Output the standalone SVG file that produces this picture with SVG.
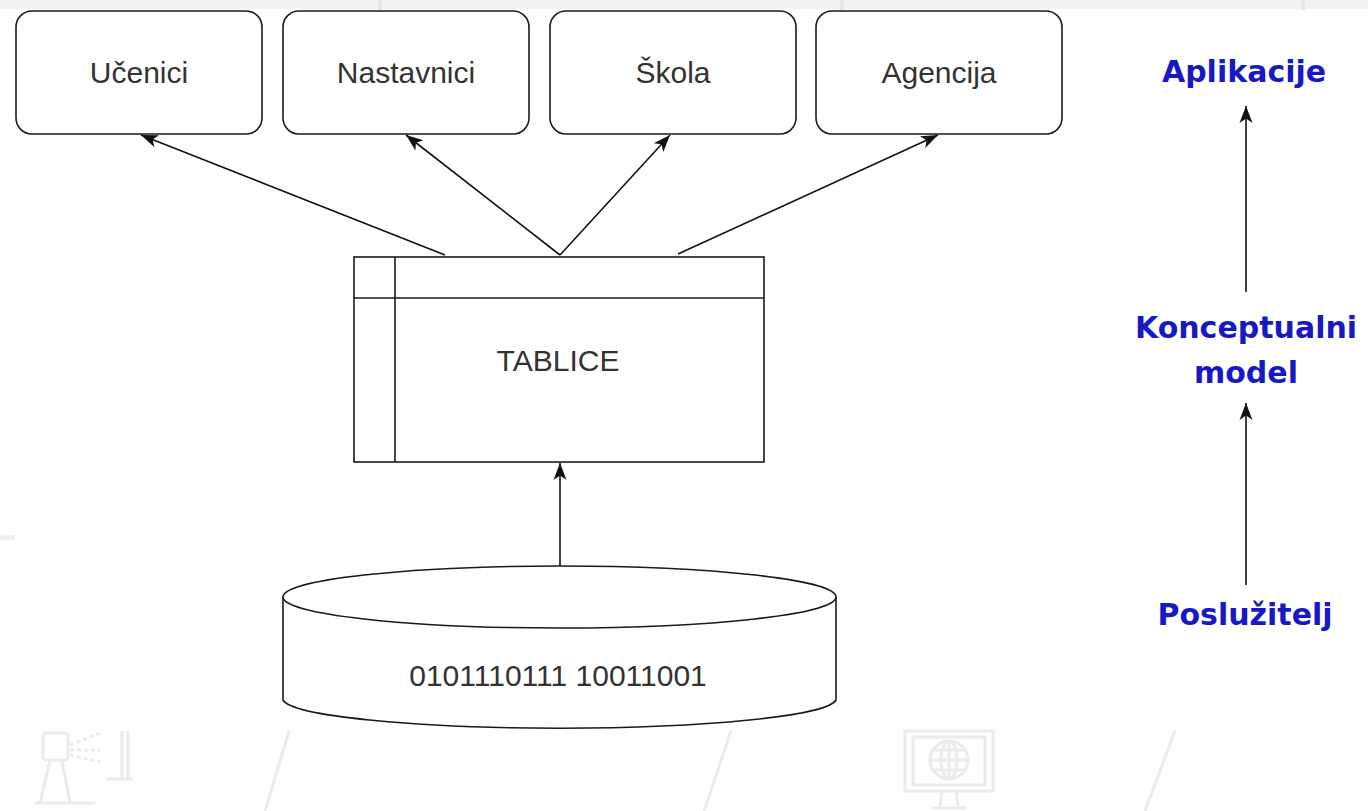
<svg xmlns="http://www.w3.org/2000/svg" width="1368" height="811" viewBox="0 0 1368 811">
<defs>
<style>
.box{fill:#fff;stroke:#1a1a1a;stroke-width:1.6}
.lbl{font-family:"Liberation Sans",Arial,sans-serif;font-size:30px;fill:#333;text-anchor:middle}
.lay{font-family:"DejaVu Sans",Verdana,sans-serif;font-weight:bold;font-size:30px;fill:#1818c4;text-anchor:middle}
.con{fill:none;stroke:#111;stroke-width:1.6}
.wm{fill:none;stroke:#ebebeb;stroke-width:3}
</style>
<marker id="arr" markerUnits="userSpaceOnUse" markerWidth="18" markerHeight="16" viewBox="0 0 18 16" refX="17" refY="8" orient="auto">
<path d="M0,1.5 L17,8 L0,14.5 L4.5,8 z" fill="#111"/>
</marker>
</defs>
<rect width="1368" height="811" fill="#fff"/>
<g id="background">
<rect x="0" y="0" width="1368" height="9" fill="#f2f2f2"/>
<rect x="378" y="0" width="4" height="10" fill="#e6e6e6"/>
<rect x="840" y="0" width="4" height="10" fill="#e6e6e6"/>
<rect x="1301" y="0" width="4" height="10" fill="#e6e6e6"/>
<rect x="0" y="535" width="15" height="5" fill="#f0f0f0"/>
<g class="wm">
<rect x="43" y="733" width="25" height="27" rx="3"/>
<path d="M70,745 L100,733 M70,750 L100,750 M70,755 L100,762" stroke-dasharray="4 3"/>
<path d="M122,731 L122,779 M128,731 L128,779 M106,779 L133,779"/>
<path d="M50,760 L40,803 M62,760 L70,803 M35,803 L95,803"/>
<path d="M289,731 L265,811"/>
<path d="M731,731 L704,811"/>
<path d="M1175,731 L1145,811"/>
<rect x="905" y="731" width="88" height="60"/>
<rect x="913" y="737" width="72" height="48"/>
<circle cx="949" cy="760" r="19"/>
<path d="M930,760 L968,760 M949,741 L949,779 M933,750 L965,750 M933,770 L965,770"/>
<ellipse cx="949" cy="760" rx="8" ry="19"/>
<path d="M942,791 L940,806 M956,791 L958,806 M932,808 L966,808"/>
</g>
</g>
<g id="connectors">
<line class="con" x1="445" y1="255" x2="141" y2="135" marker-end="url(#arr)"/>
<line class="con" x1="560" y1="255" x2="406" y2="135" marker-end="url(#arr)"/>
<line class="con" x1="560" y1="255" x2="670" y2="135" marker-end="url(#arr)"/>
<line class="con" x1="678" y1="254" x2="938" y2="135" marker-end="url(#arr)"/>
<line class="con" x1="560" y1="566" x2="560" y2="463" marker-end="url(#arr)"/>
<line class="con" x1="1246" y1="292" x2="1246" y2="106" marker-end="url(#arr)"/>
<line class="con" x1="1246" y1="585" x2="1246" y2="403" marker-end="url(#arr)"/>
</g>
<g id="ucenici">
<rect class="box" x="16" y="11" width="246" height="123" rx="16"/>
<text class="lbl" x="139" y="83">Učenici</text>
</g>
<g id="nastavnici">
<rect class="box" x="283" y="11" width="246" height="123" rx="16"/>
<text class="lbl" x="406" y="83">Nastavnici</text>
</g>
<g id="skola">
<rect class="box" x="550" y="11" width="246" height="123" rx="16"/>
<text class="lbl" x="673" y="83">Škola</text>
</g>
<g id="agencija">
<rect class="box" x="816" y="11" width="246" height="123" rx="16"/>
<text class="lbl" x="939" y="83">Agencija</text>
</g>
<g id="tablice">
<rect class="box" x="354" y="257" width="410" height="205"/>
<line class="box" x1="354" y1="298" x2="764" y2="298"/>
<line class="box" x1="395" y1="257" x2="395" y2="462"/>
<text class="lbl" x="558" y="371">TABLICE</text>
</g>
<g id="baza">
<path class="box" d="M283,597 L283,700 A277,30 0 0 0 836,700 L836,597"/>
<ellipse class="box" cx="559.5" cy="597" rx="276.5" ry="31"/>
<text class="lbl" x="558" y="686">0101110111 10011001</text>
</g>
<g id="aplikacije">
<text class="lay" x="1244" y="82">Aplikacije</text>
</g>
<g id="konceptualni">
<text class="lay" x="1246" y="338">Konceptualni</text>
<text class="lay" x="1246" y="383">model</text>
</g>
<g id="posluzitelj">
<text class="lay" x="1245" y="625">Poslužitelj</text>
</g>
</svg>
